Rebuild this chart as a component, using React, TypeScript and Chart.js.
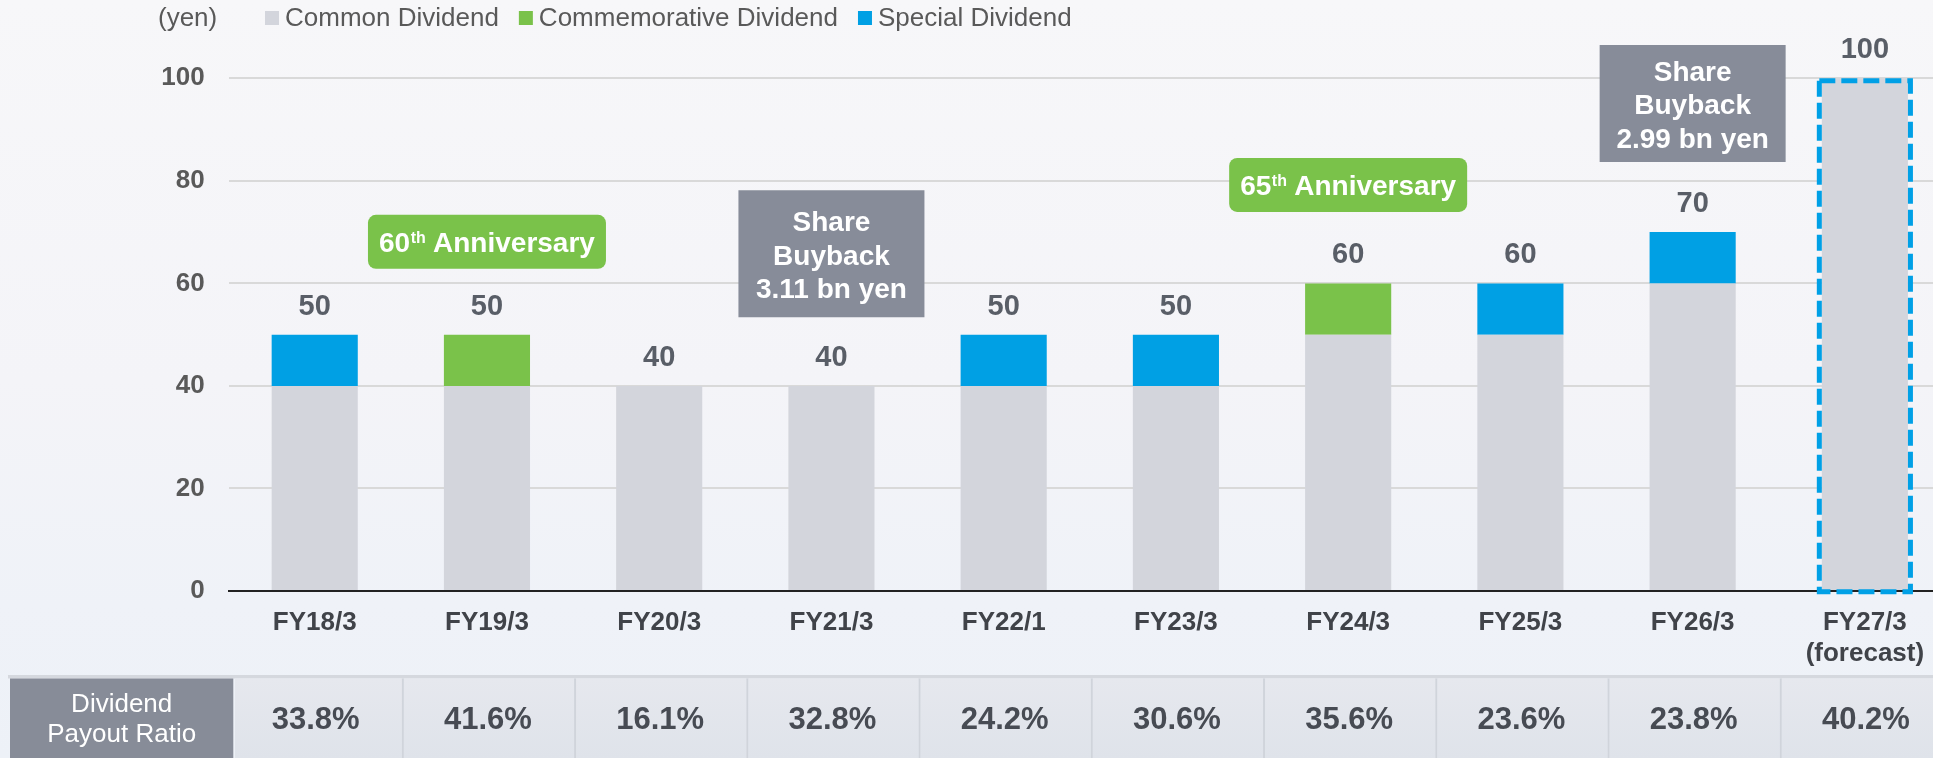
import React, { useEffect, useRef } from 'react';
import { Chart, registerables } from 'chart.js';

Chart.register(...registerables);

// ---------- data ----------
const categories: (string | string[])[] = [
  'FY18/3', 'FY19/3', 'FY20/3', 'FY21/3', 'FY22/1',
  'FY23/3', 'FY24/3', 'FY25/3', 'FY26/3', ['FY27/3', '(forecast)'],
];
const commonDividend = [40, 40, 40, 40, 40, 40, 50, 50, 60, 100];
const commemorativeDividend = [0, 10, 0, 0, 0, 0, 10, 0, 0, 0];
const specialDividend = [10, 0, 0, 0, 10, 10, 0, 10, 10, 0];
const payoutRatio = ['33.8%', '41.6%', '16.1%', '32.8%', '24.2%', '30.6%', '35.6%', '23.6%', '23.8%', '40.2%'];
const yTickValues = [0, 20, 40, 60, 80, 100];
const seriesNames = ['Common Dividend', 'Commemorative Dividend', 'Special Dividend'];
const unitLabel = '(yen)';
const tableHeader = ['Dividend', 'Payout Ratio'];
const annotationCategories = [1, 3, 6, 8];
const annotationTexts = [
  ['60', 'th', ' Anniversary'],
  ['Share', 'Buyback', '3.11 bn yen'],
  ['65', 'th', ' Anniversary'],
  ['Share', 'Buyback', '2.99 bn yen'],
];
const forecastIndex = 9;

// ---------- styles ----------
const FONT = '"Liberation Sans", Arial, Helvetica, sans-serif';
const COLORS = ['#d3d5dc', '#7ac24a', '#00a0e4'];
const NOTE_STYLE = [
  { kind: 'anniv', v: 68.1, w: 238, h: 54, color: '#7ac24a' },
  { kind: 'box', v: 65.8, w: 186, h: 127, color: '#878c99' },
  { kind: 'anniv', v: 79.2, w: 238, h: 54, color: '#7ac24a' },
  { kind: 'box', v: 95.1, w: 186, h: 117, color: '#878c99' },
];

const bgPlugin = {
  id: 'bgPlugin',
  beforeDraw(chart: any) {
    const { ctx, width, height } = chart;
    ctx.save();
    const g = ctx.createLinearGradient(0, 0, 0, height);
    g.addColorStop(0, '#f7f7f9');
    g.addColorStop(0.5, '#f4f4f8');
    g.addColorStop(0.8, '#eff2f8');
    g.addColorStop(1, '#edf1f7');
    ctx.fillStyle = g;
    ctx.fillRect(0, 0, width, height);
    ctx.restore();
  },
};

const overlayPlugin = {
  id: 'overlayPlugin',
  afterDraw(chart: any) {
    const { ctx } = chart;
    const xs = chart.scales.x;
    const ys = chart.scales.y;
    ctx.save();

    // legend
    ctx.textBaseline = 'middle';
    ctx.textAlign = 'left';
    ctx.font = `26px ${FONT}`;
    ctx.fillStyle = '#595959';
    ctx.fillText(unitLabel, 158, 19);
    let lx = 265;
    seriesNames.forEach((name, i) => {
      ctx.fillStyle = COLORS[i];
      ctx.fillRect(lx, 11, 14, 14);
      lx += 20;
      ctx.fillStyle = '#595959';
      ctx.fillText(name, lx, 19);
      lx += ctx.measureText(name).width + 20;
    });

    // total labels
    ctx.textAlign = 'center';
    ctx.font = `bold 29px ${FONT}`;
    ctx.fillStyle = '#595e67';
    categories.forEach((_, i) => {
      const total = commonDividend[i] + commemorativeDividend[i] + specialDividend[i];
      const x = xs.getPixelForValue(i);
      const y = ys.getPixelForValue(total) - 28;
      ctx.fillText(String(total), x, y);
    });

    // dashed forecast border
    const el = chart.getDatasetMeta(0).data[forecastIndex];
    if (el) {
      const p = el.getProps(['x', 'y', 'base', 'width'], true);
      const left = p.x - p.width / 2 - 2.5;
      const right = p.x + p.width / 2 + 2.5;
      const top = p.y + 2.5;
      const bottom = p.base + 1.7;
      ctx.setLineDash([16, 6]);
      ctx.lineWidth = 5;
      ctx.strokeStyle = '#00a0e6';
      ctx.strokeRect(left, top, right - left, bottom - top);
      ctx.setLineDash([]);
    }

    // annotations
    annotationTexts.forEach((lines, i) => {
      const st = NOTE_STYLE[i];
      const cx = xs.getPixelForValue(annotationCategories[i]);
      const cy = ys.getPixelForValue(st.v);
      ctx.fillStyle = st.color;
      ctx.beginPath();
      if (st.kind === 'anniv' && (ctx as any).roundRect) {
        (ctx as any).roundRect(cx - st.w / 2, cy - st.h / 2, st.w, st.h, 8);
      } else {
        ctx.rect(cx - st.w / 2, cy - st.h / 2, st.w, st.h);
      }
      ctx.fill();
      ctx.fillStyle = '#ffffff';
      ctx.textBaseline = 'alphabetic';
      if (st.kind === 'anniv') {
        const big = `bold 28px ${FONT}`;
        const small = `bold 16px ${FONT}`;
        ctx.font = big;
        const w1 = ctx.measureText(lines[0]).width;
        const w3 = ctx.measureText(lines[2]).width;
        ctx.font = small;
        const w2 = ctx.measureText(lines[1]).width;
        let x = cx - (w1 + w2 + w3) / 2;
        const base = cy + 10;
        ctx.textAlign = 'left';
        ctx.font = big;
        ctx.fillText(lines[0], x, base);
        x += w1;
        ctx.font = small;
        ctx.fillText(lines[1], x + 0.5, base - 9);
        x += w2;
        ctx.font = big;
        ctx.fillText(lines[2], x, base);
      } else {
        ctx.textAlign = 'center';
        ctx.font = `bold 28px ${FONT}`;
        lines.forEach((t, j) => {
          const ly = cy + 1 + (j - 1) * 33.3;
          ctx.fillText(t, cx, ly + 10);
        });
      }
    });

    // payout ratio table
    const tTop = 678.5;
    const tBot = chart.height;
    ctx.fillStyle = '#d5d8de';
    ctx.fillRect(8, 675, chart.width, 3.5);
    ctx.fillStyle = '#878c98';
    ctx.fillRect(10, tTop, 223.3, tBot - tTop);
    const half = (xs.getPixelForValue(1) - xs.getPixelForValue(0)) / 2;
    const cg = ctx.createLinearGradient(0, tTop, 0, tBot);
    cg.addColorStop(0, '#e6e8ee');
    cg.addColorStop(1, '#dfe3ea');
    payoutRatio.forEach((txt, i) => {
      const c = xs.getPixelForValue(i);
      const l = i === 0 ? 235 : c - half + 3;
      const r = c + half + 1;
      ctx.fillStyle = cg;
      ctx.fillRect(l, tTop, r - l, tBot - tTop);
      ctx.fillStyle = '#d0d4db';
      if (i > 0) ctx.fillRect(c - half + 1, tTop, 2, tBot - tTop);
    });
    ctx.fillStyle = '#ffffff';
    ctx.font = `26px ${FONT}`;
    ctx.textAlign = 'center';
    ctx.textBaseline = 'middle';
    ctx.fillText(tableHeader[0], 121.7, 705);
    ctx.fillText(tableHeader[1], 121.7, 735);
    ctx.font = `bold 31px ${FONT}`;
    ctx.fillStyle = '#474b53';
    payoutRatio.forEach((txt, i) => {
      ctx.fillText(txt, xs.getPixelForValue(i) + 1, 720);
    });

    ctx.restore();
  },
};

export default function App() {
  const ref = useRef<HTMLCanvasElement>(null);

  useEffect(() => {
    if (!ref.current) return;
    const chart = new Chart(ref.current, {
      type: 'bar',
      data: {
        labels: categories as any,
        datasets: [
          { label: seriesNames[0], data: commonDividend, backgroundColor: COLORS[0], borderWidth: 0 },
          { label: seriesNames[1], data: commemorativeDividend, backgroundColor: COLORS[1], borderWidth: 0 },
          { label: seriesNames[2], data: specialDividend, backgroundColor: COLORS[2], borderWidth: 0 },
        ],
      },
      options: {
        responsive: false,
        maintainAspectRatio: false,
        animation: false,
        devicePixelRatio: 1,
        layout: { padding: { top: 78.3, left: 0, right: 0, bottom: 0 } },
        datasets: { bar: { categoryPercentage: 1, barPercentage: 0.5 } } as any,
        plugins: {
          legend: { display: false },
          tooltip: { enabled: false },
          title: { display: false },
        },
        scales: {
          x: {
            stacked: true,
            z: 1,
            grid: { display: false, drawTicks: false },
            border: { display: true, color: '#222222', width: 2 },
            ticks: {
              color: '#404349',
              font: { family: FONT, size: 26, weight: 'bold', lineHeight: 1.2 },
              padding: 16,
              maxRotation: 0,
              autoSkip: false,
            },
            afterFit: (s: any) => { s.height = 167; },
          },
          y: {
            stacked: true,
            min: 0,
            max: 100,
            afterBuildTicks: (s: any) => { s.ticks = yTickValues.map((v) => ({ value: v })); },
            grid: { color: '#d9d9d9', lineWidth: 2, drawTicks: false },
            border: { display: false },
            ticks: {
              color: '#595959',
              font: { family: FONT, size: 26, weight: 'bold' },
              padding: 24,
            },
            afterFit: (s: any) => { s.width = 228.6; },
          },
        },
      },
      plugins: [bgPlugin, overlayPlugin],
    });
    return () => chart.destroy();
  }, []);

  return (
    <div style={{ position: 'fixed', left: 0, top: 0, width: 1933, height: 758, overflow: 'hidden', background: '#f4f4f8' }}>
      <canvas ref={ref} width={1951} height={758} style={{ display: 'block' }} />
    </div>
  );
}
